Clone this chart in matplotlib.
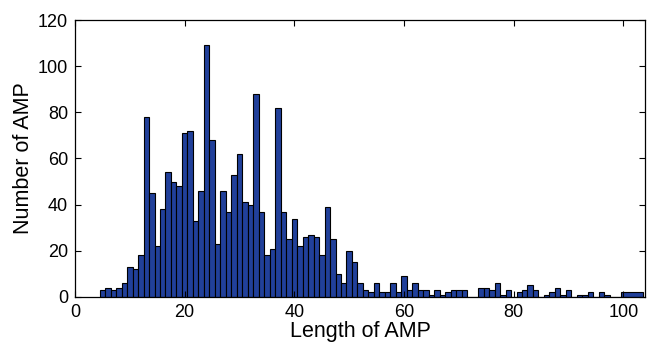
import numpy as np
import matplotlib
matplotlib.use("Agg")
import matplotlib.pyplot as plt

plt.rcParams['font.family'] = ['Liberation Sans', 'DejaVu Sans']

# histogram of AMP lengths (counts per length, 5..99, last bin covers 100-103)
lengths = np.arange(5, 100)
counts = [3, 4, 3, 4, 6, 13, 12, 18, 78, 45,
          22, 38, 54, 50, 48, 71, 72, 33, 46, 109,
          68, 23, 46, 37, 53, 62, 41, 40, 88, 37,
          18, 21, 82, 37, 25, 34, 22, 26, 27, 26,
          18, 39, 25, 10, 6, 20, 15, 6, 3, 2,
          6, 2, 2, 6, 2, 9, 3, 6, 3, 3,
          1, 3, 1, 2, 3, 3, 3, 0, 0, 4,
          4, 3, 6, 1, 3, 0, 2, 3, 5, 3,
          0, 1, 2, 4, 1, 3, 0, 1, 1, 2,
          0, 2, 1, 0, 0]
last_bin = (100, 103)
last_count = 2

edges = np.append(lengths - 0.5, [last_bin[0] - 0.5, last_bin[1] + 0.5])
heights = counts + [last_count]

fig = plt.figure(figsize=(6.48, 3.48), dpi=100)
ax = fig.add_axes([0.1157, 0.1466, 0.8803, 0.7959])

ax.bar(edges[:-1], heights, width=np.diff(edges), align='edge',
       color='#21409a', edgecolor='black', linewidth=0.8)

ax.set_xlim(0, 104)
ax.set_ylim(0, 120)
ax.set_xticks([0, 20, 40, 60, 80, 100])
ax.set_yticks([0, 20, 40, 60, 80, 100, 120])
ax.tick_params(direction='in', length=4, width=0.8, labelsize=13,
               top=True, right=True, pad=5)
for s in ax.spines.values():
    s.set_linewidth(0.9)

ax.set_xlabel('Length of AMP', fontsize=15.5, labelpad=0)
ax.set_ylabel('Number of AMP', fontsize=15.5, labelpad=3)

fig.savefig('out.png', dpi=100)
